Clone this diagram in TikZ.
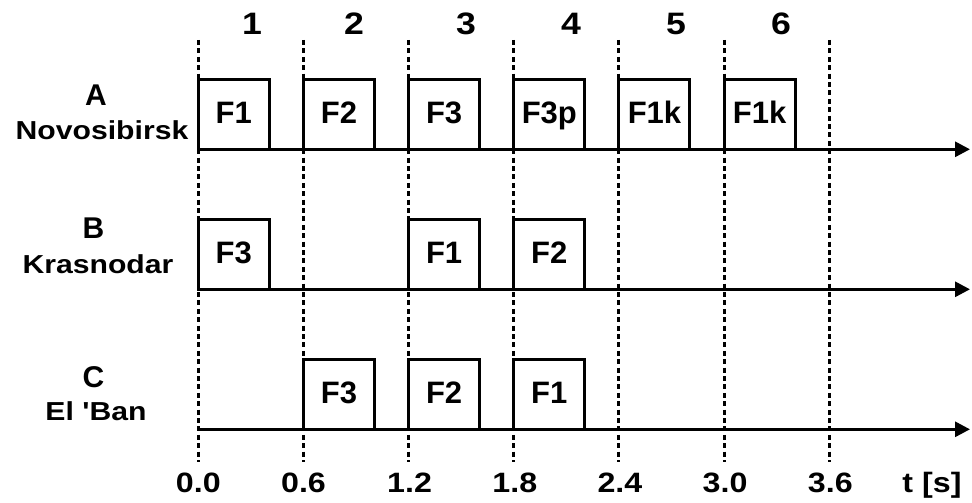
\documentclass[tikz,border=0pt]{standalone}
\usepackage{fontspec}
\setmainfont{Liberation Sans}
\usetikzlibrary{arrows.meta,calc}
\newcommand{\hs}[1]{\scalebox{1.15}[1]{#1}}
\newcommand{\hc}[1]{\scalebox{1.16}[1]{#1}}
\begin{document}
\begin{tikzpicture}[x=1pt,y=-1pt,
  every node/.style={inner sep=0pt, outer sep=0pt},
  box/.style={draw, line width=3pt, minimum width=71pt, minimum height=70pt,
    anchor=south west, font=\fontsize{31}{31}\selectfont\bfseries,
    text height=19pt, text depth=0pt},
  axisline/.style={line width=3pt, -{Triangle[length=15pt,width=15pt]}},
  gridline/.style={line width=3pt, dash pattern=on 5pt off 3.4pt},
  topnum/.style={anchor=base, font=\fontsize{31}{31}\selectfont\bfseries},
  rowname/.style={anchor=base, font=\fontsize{30}{30}\selectfont\bfseries},
  city/.style={anchor=base, font=\fontsize{26}{26}\selectfont\bfseries},
  ticklabel/.style={anchor=base, font=\fontsize{28}{28}\selectfont\bfseries}]
\useasboundingbox (0,0) rectangle (972,503);

% grid coordinates
\foreach \i in {0,...,6} {
  \coordinate (g\i t) at (198.3+\i*105.17, 40);
  \coordinate (g\i b) at (198.3+\i*105.17, 462);
}
% axes
\coordinate (aS) at (198.3,149.3); \coordinate (aE) at (970,149.3);
\coordinate (bS) at (198.3,289.3); \coordinate (bE) at (970,289.3);
\coordinate (cS) at (198.3,429.3); \coordinate (cE) at (970,429.3);
\draw[axisline] (aS) -- (aE);
\draw[axisline] (bS) -- (bE);
\draw[axisline] (cS) -- (cE);

% boxes row A
\node[box] (a1) at (198.3+0*105.17,149.3) {F1};
\node[box] (a2) at (198.3+1*105.17,149.3) {F2};
\node[box] (a3) at (198.3+2*105.17,149.3) {F3};
\node[box] (a4) at (198.3+3*105.17,149.3) {F3p};
\node[box] (a5) at (198.3+4*105.17,149.3) {F1k};
\node[box] (a6) at (198.3+5*105.17,149.3) {F1k};
% row B
\node[box] (b1) at (198.3+0*105.17,289.3) {F3};
\node[box] (b3) at (198.3+2*105.17,289.3) {F1};
\node[box] (b4) at (198.3+3*105.17,289.3) {F2};
% row C
\node[box] (c2) at (198.3+1*105.17,429.3) {F3};
\node[box] (c3) at (198.3+2*105.17,429.3) {F2};
\node[box] (c4) at (198.3+3*105.17,429.3) {F1};

% dotted grid lines
\foreach \i in {0,...,6} { \draw[gridline] (g\i t) -- (g\i b); }

% interval numbers
\node[topnum] (n1) at (252,35) {\hs{1}};
\node[topnum] (n2) at (354,35) {\hs{2}};
\node[topnum] (n3) at (466,35) {\hs{3}};
\node[topnum] (n4) at (571,35) {\hs{4}};
\node[topnum] (n5) at (676,35) {\hs{5}};
\node[topnum] (n6) at (781,35) {\hs{6}};

% row names
\node[rowname] (rA) at (96,106) {A};
\node[city] (cA) at (102,139.3) {\hc{Novosibirsk}};
\node[rowname] (rB) at (93.5,238) {B};
\node[city] (cB) at (98,273) {\hc{Krasnodar}};
\node[rowname] (rC) at (93.5,387) {C};
\node[city] (cC) at (96,420) {\hc{El \textquotesingle Ban}};

% time labels
\node[ticklabel] (l0) at (198.3,492) {\hs{0.0}};
\node[ticklabel] (l1) at (303.5,492) {\hs{0.6}};
\node[ticklabel] (l2) at (409.6,492) {\hs{1.2}};
\node[ticklabel] (l3) at (514.8,492) {\hs{1.8}};
\node[ticklabel] (l4) at (619.9,492) {\hs{2.4}};
\node[ticklabel] (l5) at (725.1,492) {\hs{3.0}};
\node[ticklabel] (l6) at (830.3,492) {\hs{3.6}};
\node[ticklabel] (lt) at (932,492) {\hs{t [s]}};
\end{tikzpicture}
\end{document}
